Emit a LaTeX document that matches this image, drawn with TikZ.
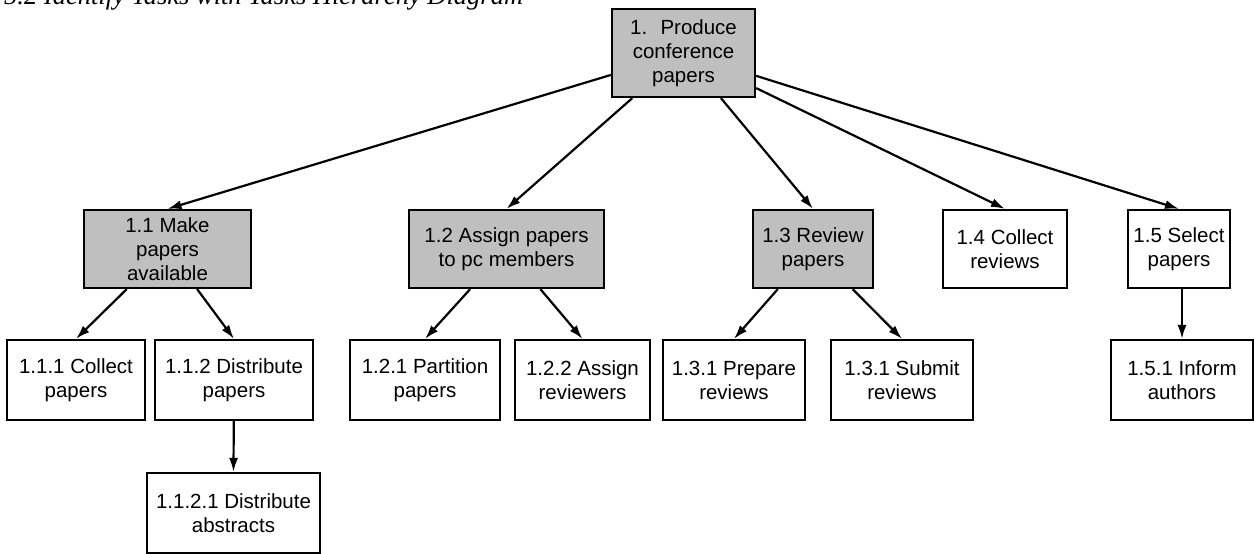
\documentclass[tikz,border=0pt]{standalone}
\usepackage{fontspec}
\setmainfont{Liberation Sans}
\newfontfamily\captionfont{Liberation Serif}
\usetikzlibrary{arrows.meta}

\tikzset{
  task/.style={draw, line width=2.2pt, align=center, inner sep=0pt,
    minimum height=80pt, font=\fontsize{20.5}{24}\selectfont},
  parent/.style={task, fill=black!25},
  link/.style={line width=2.2pt, -{Latex[length=14pt,width=9pt]}}
}

\begin{document}
\begin{tikzpicture}[x=1pt, y=-1pt]
    \useasboundingbox (0,0) rectangle (1254,554);
    \clip (0,0) rectangle (1254,554);

    % caption, cut off by the top edge
    \node[anchor=base west, inner sep=0pt, font=\captionfont\itshape\fontsize{26.5}{30}\selectfont]
      (caption) at (4,5) {5.2 Identify Tasks with Tasks Hierarchy Diagram};

    % task hierarchy
    \node[parent, minimum width=143pt, minimum height=88pt] (root) at (683.5,53) {1.~ Produce\\conference\\papers};

    \node[parent, minimum width=167pt, minimum height=78pt] (n11) at (167.5,249) {1.1 Make\\papers\\available};
    \node[parent, minimum width=195pt, minimum height=78pt] (n12) at (506.5,249) {1.2 Assign papers\\to pc members};
    \node[parent, minimum width=120pt, minimum height=78pt] (n13) at (813,249) {1.3 Review\\papers};
    \node[task, minimum width=124pt, minimum height=78pt] (n14) at (1005,249) {1.4 Collect\\reviews};
    \node[task, minimum width=102pt, minimum height=78pt] (n15) at (1179,249) {1.5 Select\\papers};

    \node[task, minimum width=138pt] (n111) at (76,380) {1.1.1 Collect\\papers};
    \node[task, minimum width=158pt] (n112) at (234,380) {1.1.2 Distribute\\papers};
    \node[task, minimum width=150pt] (n121) at (425,380) {1.2.1 Partition\\papers};
    \node[task, minimum width=135pt] (n122) at (582.5,380) {1.2.2 Assign\\reviewers};
    \node[task, minimum width=142pt] (n131) at (734,380) {1.3.1 Prepare\\reviews};
    \node[task, minimum width=142pt] (n132) at (902,380) {1.3.1 Submit\\reviews};
    \node[task, minimum width=142pt] (n151) at (1182,380) {1.5.1 Inform\\authors};

    \node[task, minimum width=173pt] (n1121) at (233.5,513) {1.1.2.1 Distribute\\abstracts};

    % connectors
    \foreach \child in {n11, n12, n13, n14, n15}
      \draw[link] (root) -- (\child.north);
    \draw[link] (n11) -- (n111.north);
    \draw[link] (n11) -- (n112.north);
    \draw[link] (n12) -- (n121.north);
    \draw[link] (n12) -- (n122.north);
    \draw[link] (n13) -- (n131.north);
    \draw[link] (n13) -- (n132.north);
    \draw[link] (n15.south -| n151) -- (n151.north);
    \draw[link] (n112) -- (n1121.north);
\end{tikzpicture}
\end{document}
